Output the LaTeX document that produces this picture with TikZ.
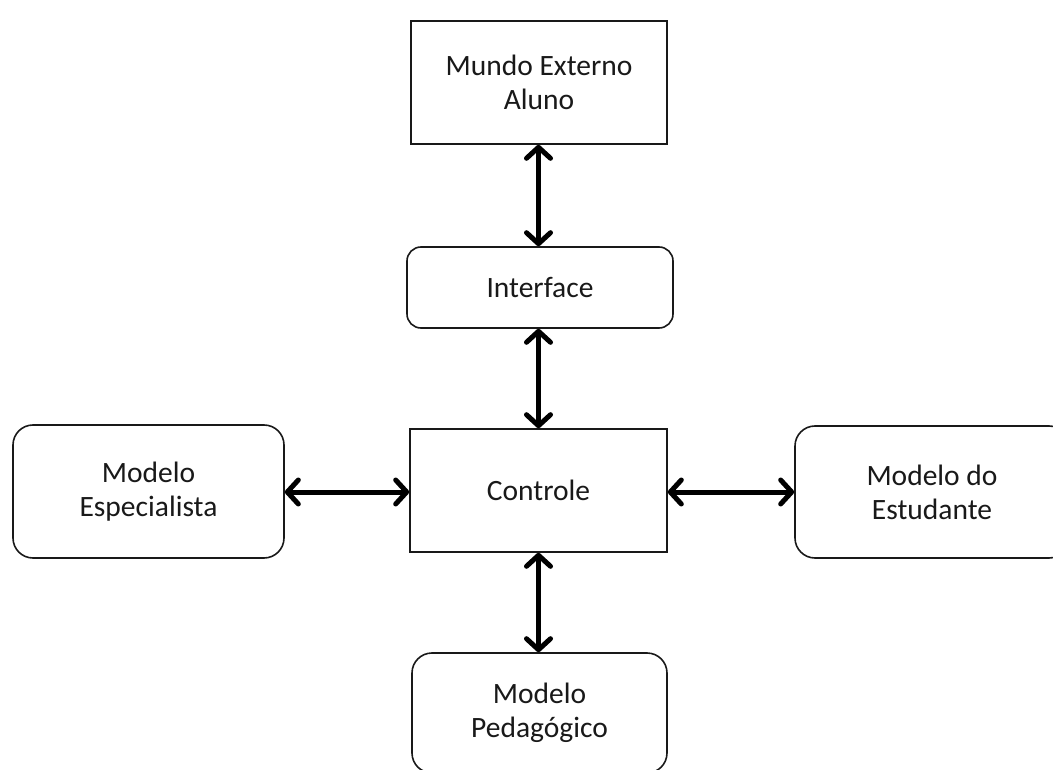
\documentclass[tikz,border=0pt]{standalone}
\usepackage{fontspec}
\setmainfont{Carlito}
\usetikzlibrary{arrows.meta}

\tikzset{
  box/.style={draw=black!90, line width=1.6pt, fill=white, rectangle,
    align=center, inner sep=0pt, text=black!90,
    font=\fontsize{29.5}{34}\selectfont},
  roundbox/.style={box, rounded corners=20pt},
  link/.style={line width=5pt, black,
    {Straight Barb[length=11pt,width=24pt,round]}-{Straight Barb[length=11pt,width=24pt,round]}}
}

\begin{document}
\begin{tikzpicture}[x=1pt,y=-1pt]
  \useasboundingbox (0,0) rectangle (1053,770);
  \clip (0,0) rectangle (1053,770);

  % central controller and the components around it
  \node[box, minimum width=256pt, minimum height=123pt] (mundo) at (539,82.5)
    {Mundo Externo\\Aluno};
  \node[roundbox, rounded corners=14pt, minimum width=266pt, minimum height=81pt] (iface) at (540,287.5)
    {Interface};
  \node[box, minimum width=257pt, minimum height=123pt] (ctrl) at (538.5,490.5)
    {Controle};
  \node[roundbox, minimum width=271pt, minimum height=133pt] (esp) at (148.5,491.5)
    {Modelo\\Especialista};
  \node[roundbox, minimum width=274pt, minimum height=132pt] (est) at (932,492)
    {Modelo do\\Estudante};
  \node[roundbox, minimum width=255pt, minimum height=120pt] (ped) at (539.5,713)
    {Modelo\\Pedag\'ogico};

  % two-way links
  \draw[link] (mundo.south -| ctrl.center) -- (iface.north -| ctrl.center);
  \draw[link] (iface.south -| ctrl.center) -- (ctrl.north);
  \draw[link] (ctrl.south) -- (ped.north -| ctrl.center);
  \draw[link] (esp.east |- 0,492) -- (ctrl.west |- 0,492);
  \draw[link] (ctrl.east |- 0,492) -- (est.west |- 0,492);
\end{tikzpicture}
\end{document}
